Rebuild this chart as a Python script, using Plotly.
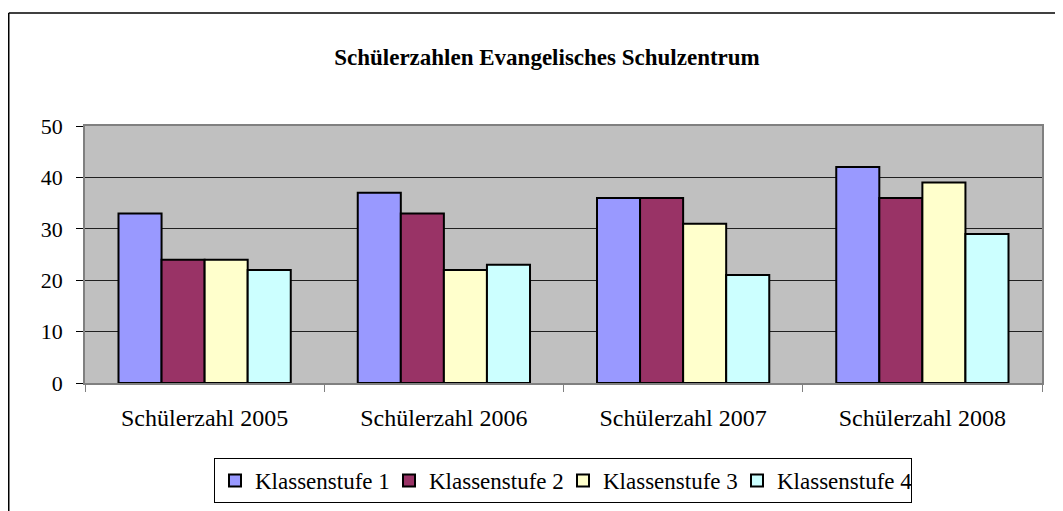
import plotly.graph_objects as go

categories = ["Schülerzahl 2005", "Schülerzahl 2006", "Schülerzahl 2007", "Schülerzahl 2008"]
series_names = ["Klassenstufe 1", "Klassenstufe 2", "Klassenstufe 3", "Klassenstufe 4"]
stufe1 = [33, 37, 36, 42]
stufe2 = [24, 33, 36, 36]
stufe3 = [24, 22, 31, 39]
stufe4 = [22, 23, 21, 29]
colors = ["#9999FF", "#993366", "#FFFFCC", "#CCFFFF"]
y_ticks = [0, 10, 20, 30, 40, 50]

FONT = "Liberation Serif, Times New Roman, serif"

fig = go.Figure()
for name, vals, col in zip(series_names, [stufe1, stufe2, stufe3, stufe4], colors):
    fig.add_trace(go.Bar(
        x=categories, y=vals, name=name,
        marker=dict(color=col, line=dict(color="black", width=2)),
    ))

# page body has an 8px margin, so figure coordinates = screen - 8
W, H = 1055, 503
L, R, T, B = 77, 21, 118, 128
pw = W - L - R
ph = H - T - B

def px_x(px):
    return (px - L) / pw

def px_y(py):
    return (H - B - py) / ph

fig.update_layout(
    width=W, height=H,
    margin=dict(l=L, r=R, t=T, b=B, autoexpand=False),
    paper_bgcolor="white",
    plot_bgcolor="#C0C0C0",
    barmode="group",
    bargap=0.28,
    bargroupgap=0,
    font=dict(family=FONT, color="black", size=22),
    title=dict(
        text="<b>Schülerzahlen Evangelisches Schulzentrum</b>",
        font=dict(family=FONT, size=23, color="black"),
        x=539 / W, xanchor="center",
        y=1 - 49 / H, yanchor="middle",
    ),
    showlegend=True,
    legend=dict(
        orientation="h",
        x=px_x(555), xanchor="center",
        y=px_y(450), yanchor="top",
        bordercolor="black", borderwidth=1,
        bgcolor="white",
        font=dict(family=FONT, size=23, color="black"),
        traceorder="normal",
        itemsizing="constant",
        entrywidth=129,
    ),
    xaxis=dict(
        showgrid=False,
        showline=True, linecolor="#808080", linewidth=1.5,
        mirror=True,
        ticks="outside", tickson="boundaries", ticklen=7, tickcolor="#808080",
        tickfont=dict(family=FONT, size=24, color="black"),
        ticklabelstandoff=12,
    ),
    yaxis=dict(
        range=[0, 50],
        tickvals=y_ticks,
        showgrid=True, gridcolor="#202020", gridwidth=1,
        showline=True, linecolor="#808080", linewidth=1.5,
        mirror=True,
        ticks="outside", ticklen=7, tickcolor="black",
        tickfont=dict(family=FONT, size=22, color="black"),
        ticklabelstandoff=9,
        zeroline=False,
    ),
    shapes=[
        dict(type="line", xref="paper", yref="paper",
             x0=px_x(0.75), x1=px_x(0.75), y0=px_y(5), y1=px_y(530),
             line=dict(color="black", width=1.5)),
        dict(type="line", xref="paper", yref="paper",
             x0=px_x(0.75), x1=px_x(1080), y0=px_y(5), y1=px_y(5),
             line=dict(color="black", width=1.5)),
    ],
)

fig.write_html("out.html")
